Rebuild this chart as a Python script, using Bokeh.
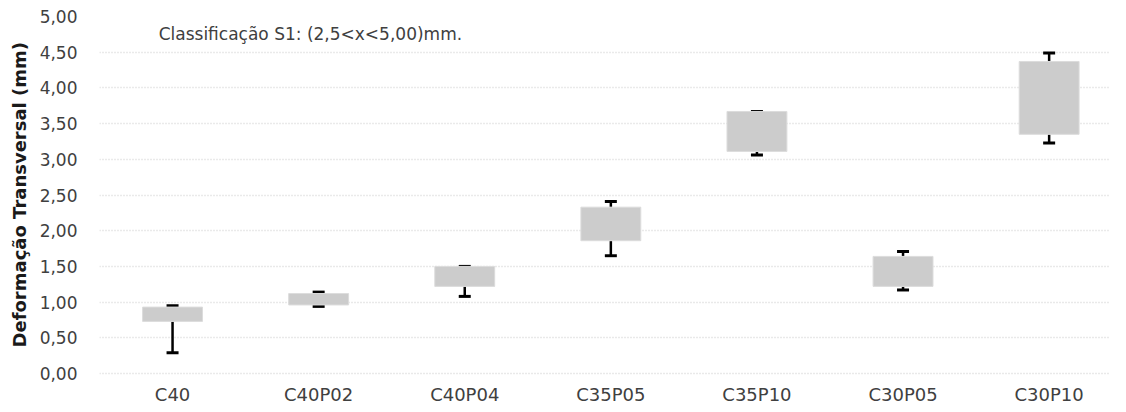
from bokeh.plotting import figure
from bokeh.models import Range1d, FixedTicker, Whisker, TeeHead, ColumnDataSource, Label, Title
from bokeh.core.properties import value
from bokeh.embed import file_html
from bokeh.resources import INLINE

categories = ["C40", "C40P02", "C40P04", "C35P05", "C35P10", "C30P05", "C30P10"]
q1 = [0.73, 0.96, 1.22, 1.86, 3.11, 1.22, 3.35]
q3 = [0.93, 1.12, 1.50, 2.33, 3.67, 1.64, 4.37]
low = [0.29, 0.94, 1.08, 1.65, 3.06, 1.17, 3.23]
high = [0.95, 1.14, 1.50, 2.41, 3.67, 1.71, 4.49]
y_ticks = [0.0, 0.5, 1.0, 1.5, 2.0, 2.5, 3.0, 3.5, 4.0, 4.5, 5.0]
y_tick_labels = ["0,00", "0,50", "1,00", "1,50", "2,00", "2,50", "3,00", "3,50", "4,00", "4,50", "5,00"]
note = "Classificação S1: (2,5<x<5,00)mm."
y_title = "Deformação Transversal (mm)"

FONT = "DejaVu Sans"
TXT = "#404040"

xs = list(range(len(categories)))
src = ColumnDataSource(dict(x=xs, q1=q1, q3=q3, low=low, high=high, cat=categories))

p = figure(width=1110, height=404, output_backend="svg", toolbar_location=None,
           x_range=Range1d(-0.5, 6.42), y_range=Range1d(-0.434, 5),
           min_border_left=92, min_border_right=0, min_border_top=16, min_border_bottom=0)
p.outline_line_color = None
p.background_fill_color = "white"
p.border_fill_color = "white"

p.xgrid.grid_line_color = None
p.ygrid.grid_line_color = "#d4d4d4"
p.ygrid.grid_line_dash = "1 2"
p.ygrid.grid_line_width = 1.3

p.xaxis.visible = False
p.yaxis.ticker = FixedTicker(ticks=y_ticks)
p.yaxis.major_label_overrides = {t: l for t, l in zip(y_ticks, y_tick_labels)}

ax = p.yaxis[0]
ax.axis_line_color = None
ax.major_tick_line_color = None
ax.minor_tick_line_color = None
ax.major_tick_out = 0
ax.major_tick_in = 0
ax.major_label_text_font = FONT
ax.major_label_text_font_size = "17px"
ax.major_label_text_color = TXT
ax.major_label_standoff = 22

p.add_layout(Title(text=y_title, align="left", offset=57, standoff=13,
                   text_font=FONT, text_font_size="18px", text_font_style="bold",
                   text_color="#1a1a1a"), "left")

p.vbar(x="x", bottom="q1", top="q3", width=0.41, source=src,
       fill_color="#cccccc", line_color="#dcdcdc", line_width=1)

p.add_layout(Whisker(base="x", lower="q3", upper="high", source=src,
                     line_color="black", line_width=2.5,
                     lower_head=None,
                     upper_head=TeeHead(size=12, line_color="black", line_width=3)))
p.add_layout(Whisker(base="x", lower="low", upper="q1", source=src,
                     line_color="black", line_width=2.5,
                     upper_head=None,
                     lower_head=TeeHead(size=12, line_color="black", line_width=3)))

p.text(x="x", y=-0.29, text="cat", source=src, text_font=value(FONT),
       text_font_size="18px", text_color=TXT, text_align="center", text_baseline="middle")

p.add_layout(Label(x=-0.095, y=4.76, text=note, text_font=FONT, text_font_size="17px",
                   text_color=TXT, text_baseline="middle", text_align="left"))

open("out.html", "w").write(file_html(p, INLINE))
